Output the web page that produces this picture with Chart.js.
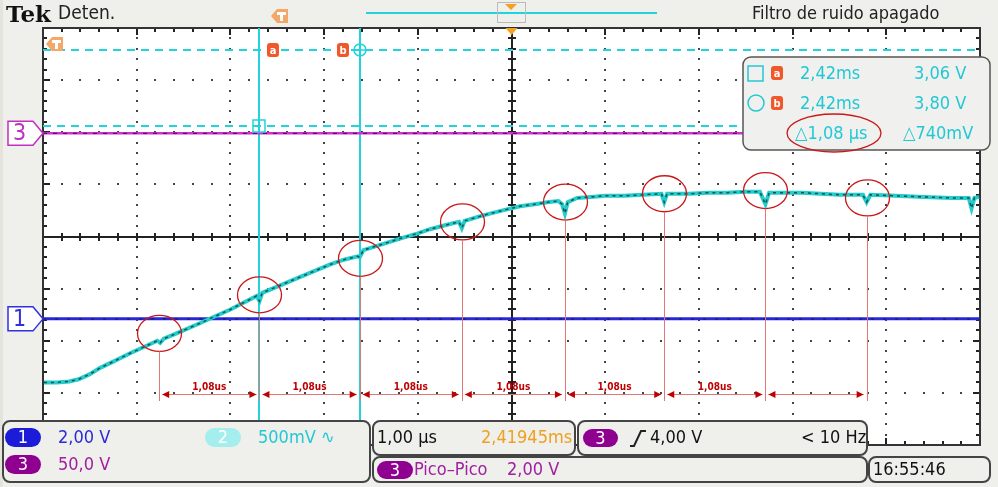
<!DOCTYPE html>
<html>
<head>
<meta charset="utf-8">
<script src="https://cdn.jsdelivr.net/npm/chart.js@4.4.1/dist/chart.umd.min.js"></script>
<style>
  html, body { margin: 0; padding: 0; background: #efefeb; }
  canvas { display: block; }
</style>
</head>
<body>
<canvas id="scope" width="998" height="487"></canvas>
<script>
// trace of channel 2, time in µs (1 µs/div, trigger at 0), volts (500 mV/div)
const traceTime = [-4.99, -4.85, -4.72, -4.62, -4.50, -4.39, -4.25, -4.07, -3.90, -3.78, -3.75, -3.71,
  -3.55, -3.32, -3.15, -3.00, -2.85, -2.72, -2.69, -2.66, -2.50, -2.26, -2.10, -1.94, -1.78, -1.64,
  -1.62, -1.58, -1.40, -1.19, -1.00, -0.87, -0.70, -0.56, -0.53, -0.50, -0.35, -0.23, -0.05, 0.09,
  0.25, 0.40, 0.50, 0.54, 0.57, 0.60, 0.70, 0.85, 1.00, 1.20, 1.40, 1.60, 1.63, 1.66, 1.90, 2.10,
  2.30, 2.50, 2.65, 2.71, 2.75, 2.90, 3.10, 3.30, 3.50, 3.75, 3.79, 3.83, 4.10, 4.40, 4.70, 4.88,
  4.91, 4.94, 4.99];
const traceVolt = [0.60, 0.60, 0.61, 0.63, 0.68, 0.74, 0.80, 0.88, 0.95, 1.00, 0.98, 1.02,
  1.08, 1.17, 1.24, 1.30, 1.37, 1.43, 1.38, 1.46, 1.52, 1.61, 1.67, 1.73, 1.78, 1.81,
  1.80, 1.87, 1.92, 1.98, 2.03, 2.07, 2.11, 2.14, 2.08, 2.15, 2.19, 2.22, 2.26, 2.29,
  2.31, 2.33, 2.34, 2.31, 2.22, 2.33, 2.37, 2.38, 2.39, 2.39, 2.40, 2.41, 2.33, 2.41, 2.41, 2.42,
  2.42, 2.43, 2.43, 2.31, 2.42, 2.42, 2.42, 2.41, 2.40, 2.40, 2.33, 2.40, 2.39, 2.38, 2.37, 2.37,
  2.27, 2.37, 2.38];

// flat reference traces of channel 1 and channel 3 (screen level)
const ch1Level = 1.21;
const ch3Level = 2.99;

// cursors a and b
const cursorTimes = [-2.695, -1.617];
const cursorLevels = [3.06, 3.79];

// hand-drawn red marks on the glitches
const markTimes = [-3.76, -2.69, -1.62, -0.53, 0.57, 1.63, 2.71, 3.79];
const markLevels = [1.07, 1.44, 1.79, 2.14, 2.33, 2.41, 2.44, 2.37];
const spanLabels = ["1,08us", "1,08us", "1,08us", "1,08us", "1,08us", "1,08us", ""];

const FONT = '"DejaVu Sans Condensed", "Liberation Sans Narrow", sans-serif';

function rrect(ctx, x, y, w, h, r) {
  ctx.beginPath();
  ctx.moveTo(x + r, y);
  ctx.arcTo(x + w, y, x + w, y + h, r);
  ctx.arcTo(x + w, y + h, x, y + h, r);
  ctx.arcTo(x, y + h, x, y, r);
  ctx.arcTo(x, y, x + w, y, r);
  ctx.closePath();
}

function pill(ctx, x, y, w, h, fill, label) {
  rrect(ctx, x, y, w, h, h / 2);
  ctx.fillStyle = fill;
  ctx.fill();
  ctx.fillStyle = "#fff";
  ctx.font = "18px " + FONT;
  ctx.textAlign = "center";
  ctx.textBaseline = "middle";
  ctx.fillText(label, x + w / 2, y + h / 2 + 1);
  ctx.textAlign = "left";
}

function txt(ctx, s, x, y, color, size) {
  ctx.fillStyle = color;
  ctx.font = size + "px " + FONT;
  ctx.textAlign = "left";
  ctx.textBaseline = "middle";
  ctx.fillText(s, x, y);
}

function tagLetter(ctx, x, y, ch) {
  rrect(ctx, x - 6, y - 7, 12, 14, 3);
  ctx.fillStyle = "#f0582a";
  ctx.fill();
  ctx.fillStyle = "#fff";
  ctx.font = "bold 11px " + FONT;
  ctx.textAlign = "center";
  ctx.textBaseline = "middle";
  ctx.fillText(ch, x, y + 1);
  ctx.textAlign = "left";
}

function trigFlag(ctx, x, y) {
  ctx.fillStyle = "#f4a766";
  ctx.beginPath();
  ctx.moveTo(x - 9, y);
  ctx.lineTo(x - 3, y - 7);
  ctx.lineTo(x + 8, y - 7);
  ctx.lineTo(x + 8, y + 7);
  ctx.lineTo(x - 3, y + 7);
  ctx.closePath();
  ctx.fill();
  ctx.fillStyle = "#fff";
  ctx.fillRect(x - 3, y - 4, 9, 3);
  ctx.fillRect(x, y - 2, 3, 7);
}

function chMarker(ctx, y, color, label) {
  ctx.strokeStyle = color;
  ctx.lineWidth = 1.5;
  ctx.fillStyle = "#fff";
  ctx.beginPath();
  ctx.moveTo(8, y - 12);
  ctx.lineTo(33, y - 12);
  ctx.lineTo(43, y);
  ctx.lineTo(33, y + 12);
  ctx.lineTo(8, y + 12);
  ctx.closePath();
  ctx.fill();
  ctx.stroke();
  txt(ctx, label, 13, y + 1, color, 23);
}

function arrowHead(ctx, x, y, dir) {
  ctx.beginPath();
  ctx.moveTo(x, y);
  ctx.lineTo(x - dir * 7, y - 3.5);
  ctx.lineTo(x - dir * 7, y + 3.5);
  ctx.closePath();
  ctx.fill();
}

const scopePlugin = {
  id: "scope",
  beforeDraw(chart) {
    const ctx = chart.ctx;
    const a = chart.chartArea;
    ctx.save();
    ctx.fillStyle = "#efefeb";
    ctx.fillRect(0, 0, chart.width, chart.height);
    ctx.fillStyle = "#e4e4dc";
    ctx.fillRect(0, 0, 3, chart.height);
    ctx.fillStyle = "#fff";
    ctx.fillRect(a.left, a.top, a.right - a.left, a.bottom - a.top);
    ctx.restore();
  },
  beforeDatasetsDraw(chart) {
    const ctx = chart.ctx;
    const a = chart.chartArea;
    const xs = chart.scales.x, ys = chart.scales.y;
    const dx = (a.right - a.left) / 10, dy = (a.bottom - a.top) / 8;
    const cx = xs.getPixelForValue(0), cy = ys.getPixelForValue(2);
    ctx.save();
    // dotted graticule
    ctx.fillStyle = "#444";
    for (let i = 1; i < 10; i++) {
      if (i === 5) continue;
      const x = Math.round(a.left + i * dx);
      for (let j = 1; j < 40; j++) ctx.fillRect(x - 1, Math.round(a.top + j * dy / 5) - 1, 2, 2);
    }
    for (let j = 1; j < 8; j++) {
      if (j === 4) continue;
      const y = Math.round(a.top + j * dy);
      for (let i = 1; i < 50; i++) ctx.fillRect(Math.round(a.left + i * dx / 5) - 1, y - 1, 2, 2);
    }
    // center cross with minor ticks
    ctx.fillStyle = "#222";
    ctx.fillRect(a.left, Math.round(cy) - 1, a.right - a.left, 2);
    ctx.fillRect(Math.round(cx) - 1, a.top, 2, a.bottom - a.top);
    for (let i = 1; i < 50; i++) {
      const x = Math.round(a.left + i * dx / 5);
      ctx.fillRect(x - 1, Math.round(cy) - 4, 2, 8);
      ctx.fillRect(x - 1, a.top, 2, i % 5 === 0 ? 7 : 4);
      ctx.fillRect(x - 1, a.bottom - (i % 5 === 0 ? 7 : 4), 2, i % 5 === 0 ? 7 : 4);
    }
    for (let j = 1; j < 40; j++) {
      const y = Math.round(a.top + j * dy / 5);
      ctx.fillRect(Math.round(cx) - 4, y - 1, 8, 2);
      ctx.fillRect(a.left, y - 1, j % 5 === 0 ? 7 : 4, 2);
      ctx.fillRect(a.right - (j % 5 === 0 ? 7 : 4), y - 1, j % 5 === 0 ? 7 : 4, 2);
    }
    // frame
    ctx.strokeStyle = "#333";
    ctx.lineWidth = 2;
    ctx.strokeRect(a.left, a.top, a.right - a.left, a.bottom - a.top);

    // cursors
    ctx.strokeStyle = "#22d3dc";
    ctx.lineWidth = 2;
    ctx.setLineDash([8, 6]);
    cursorLevels.forEach(v => {
      const y = Math.round(ys.getPixelForValue(v));
      ctx.beginPath(); ctx.moveTo(a.left, y); ctx.lineTo(a.right, y); ctx.stroke();
    });
    ctx.setLineDash([]);
    cursorTimes.forEach(t => {
      const x = Math.round(xs.getPixelForValue(t));
      ctx.beginPath(); ctx.moveTo(x, a.top); ctx.lineTo(x, a.bottom); ctx.stroke();
    });
    ctx.restore();
  },
  afterDatasetsDraw(chart) {
    const ctx = chart.ctx;
    const a = chart.chartArea;
    const xs = chart.scales.x, ys = chart.scales.y;
    ctx.save();
    // cursor symbols
    const ax = xs.getPixelForValue(cursorTimes[0]), ay = ys.getPixelForValue(cursorLevels[0]);
    const bx = xs.getPixelForValue(cursorTimes[1]), by = ys.getPixelForValue(cursorLevels[1]);
    ctx.strokeStyle = "#22d3dc";
    ctx.lineWidth = 1.5;
    ctx.strokeRect(ax - 6, ay - 6, 12, 12);
    ctx.beginPath(); ctx.arc(bx, by, 6, 0, Math.PI * 2); ctx.stroke();
    ctx.beginPath();
    ctx.moveTo(bx - 9, by); ctx.lineTo(bx + 9, by);
    ctx.moveTo(bx, by - 9); ctx.lineTo(bx, by + 9);
    ctx.stroke();
    tagLetter(ctx, ax + 14, ys.getPixelForValue(cursorLevels[1]), "a");
    tagLetter(ctx, bx - 17, by, "b");
    trigFlag(ctx, a.left + 12, a.top + 16);
    // trigger position
    ctx.fillStyle = "#f4a020";
    const tx = xs.getPixelForValue(0);
    ctx.beginPath(); ctx.moveTo(tx - 6, a.top); ctx.lineTo(tx + 6, a.top); ctx.lineTo(tx, a.top + 7); ctx.closePath(); ctx.fill();

    // red marks
    const yArrow = 394, yFoot = 401;
    markTimes.forEach((t, i) => {
      const x = Math.round(xs.getPixelForValue(t)) + 0.5;
      const y = ys.getPixelForValue(markLevels[i]);
      ctx.strokeStyle = "#c81818";
      ctx.lineWidth = 1.3;
      ctx.beginPath(); ctx.ellipse(x, y, 22, 18, 0, 0, Math.PI * 2); ctx.stroke();
      ctx.strokeStyle = "#e07878";
      ctx.lineWidth = 1;
      ctx.beginPath(); ctx.moveTo(x, y + 18); ctx.lineTo(x, yFoot); ctx.stroke();
    });
    for (let i = 0; i < markTimes.length - 1; i++) {
      const x1 = xs.getPixelForValue(markTimes[i]) + 3;
      const x2 = xs.getPixelForValue(markTimes[i + 1]) - 3;
      ctx.strokeStyle = "#e07878";
      ctx.beginPath(); ctx.moveTo(x1, yArrow + 0.5); ctx.lineTo(x2, yArrow + 0.5); ctx.stroke();
      ctx.fillStyle = "#c00000";
      arrowHead(ctx, x1, yArrow + 0.5, -1);
      arrowHead(ctx, x2, yArrow + 0.5, 1);
      if (spanLabels[i]) {
        ctx.font = "bold 10px " + FONT;
        ctx.textAlign = "center";
        ctx.textBaseline = "alphabetic";
        ctx.fillText(spanLabels[i], (x1 + x2) / 2, yArrow - 4);
      }
    }

    // channel markers
    chMarker(ctx, ys.getPixelForValue(ch3Level), "#c030c0", "3");
    chMarker(ctx, ys.getPixelForValue(ch1Level), "#3030e0", "1");

    // cursor readout box
    rrect(ctx, 743, 57, 247, 93, 8);
    ctx.fillStyle = "#f0f0ee";
    ctx.fill();
    ctx.strokeStyle = "#555";
    ctx.lineWidth = 1.5;
    ctx.stroke();
    ctx.strokeStyle = "#22c8d4";
    ctx.strokeRect(748, 66, 15, 15);
    ctx.beginPath(); ctx.arc(756, 103, 8, 0, Math.PI * 2); ctx.stroke();
    tagLetter(ctx, 777, 73, "a");
    tagLetter(ctx, 777, 103, "b");
    const cy = "#22c8d4";
    txt(ctx, "2,42ms", 800, 74, cy, 18);
    txt(ctx, "3,06 V", 914, 74, cy, 18);
    txt(ctx, "2,42ms", 800, 104, cy, 18);
    txt(ctx, "3,80 V", 914, 104, cy, 18);
    txt(ctx, "\u25B31,08 \u00B5s", 795, 134, cy, 18);
    txt(ctx, "\u25B3740mV", 903, 134, cy, 18);
    ctx.strokeStyle = "#c81818";
    ctx.lineWidth = 1.3;
    ctx.beginPath(); ctx.ellipse(834, 133, 47, 19, 0, 0, Math.PI * 2); ctx.stroke();
    ctx.restore();
  },
  afterDraw(chart) {
    const ctx = chart.ctx;
    ctx.save();
    // top bar
    ctx.fillStyle = "#111";
    ctx.font = 'bold 23px "DejaVu Serif", serif';
    ctx.textBaseline = "alphabetic";
    ctx.textAlign = "left";
    ctx.fillText("Tek", 6, 22);
    txt(ctx, "Deten.", 58, 14, "#222", 19);
    trigFlag(ctx, 280, 16);
    ctx.fillStyle = "#22d3dc";
    ctx.fillRect(366, 12, 291, 2);
    ctx.strokeStyle = "#bbb";
    ctx.lineWidth = 1;
    ctx.strokeRect(497.5, 2.5, 28, 20);
    ctx.fillStyle = "#f4a020";
    ctx.beginPath(); ctx.moveTo(505, 4); ctx.lineTo(517, 4); ctx.lineTo(511, 10); ctx.closePath(); ctx.fill();
    txt(ctx, "Filtro de ruido apagado", 752, 14, "#222", 18);

    // bottom panels
    const panel = (x, y, w, h) => {
      rrect(ctx, x, y, w, h, 7);
      ctx.fillStyle = "#efefeb";
      ctx.fill();
      ctx.strokeStyle = "#444";
      ctx.lineWidth = 2;
      ctx.stroke();
    };
    panel(3, 421, 367, 61);
    panel(373, 421, 202, 34);
    panel(578, 421, 289, 34);
    panel(373, 457, 494, 25);
    panel(869, 457, 121, 25);

    pill(ctx, 5, 428, 36, 19, "#1c1cd8", "1");
    txt(ctx, "2,00 V", 58, 438, "#2a2ad8", 18);
    pill(ctx, 205, 428, 36, 19, "#a4eeee", "2");
    txt(ctx, "500mV \u223F", 258, 438, "#22c8d4", 18);
    pill(ctx, 5, 455, 36, 19, "#900090", "3");
    txt(ctx, "50,0 V", 58, 465, "#a020a0", 18);

    txt(ctx, "1,00 \u00B5s", 377, 438, "#111", 18);
    txt(ctx, "2,41945ms", 481, 438, "#f0a020", 18);

    pill(ctx, 583, 429, 35, 18, "#900090", "3");
    ctx.strokeStyle = "#222";
    ctx.lineWidth = 2;
    ctx.beginPath(); ctx.moveTo(630, 446); ctx.lineTo(634, 446); ctx.lineTo(641, 431); ctx.lineTo(646, 431); ctx.stroke();
    txt(ctx, "4,00 V", 650, 438, "#111", 18);
    txt(ctx, "< 10 Hz", 801, 438, "#111", 18);

    pill(ctx, 377, 461, 36, 18, "#900090", "3");
    txt(ctx, "Pico\u2013Pico", 414, 470, "#a020a0", 18);
    txt(ctx, "2,00 V", 507, 470, "#a020a0", 18);
    txt(ctx, "16:55:46", 873, 470, "#111", 18);
    ctx.restore();
  }
};

const trace = traceTime.map((t, i) => ({ x: t, y: traceVolt[i] }));

// Chart.js paints the first dataset on top, so the dark speckle layers come first
new Chart(document.getElementById("scope"), {
  type: "line",
  data: {
    datasets: [
      { data: trace, borderColor: "rgba(15,60,60,0.85)", borderWidth: 1.5, borderDash: [3, 4] },
      { data: trace, borderColor: "#24cccc", borderWidth: 4 },
      { data: [{ x: -5, y: ch1Level }, { x: 5, y: ch1Level }], borderColor: "rgba(20,20,60,0.7)", borderWidth: 1.2, borderDash: [3, 9] },
      { data: [{ x: -5, y: ch1Level }, { x: 5, y: ch1Level }], borderColor: "#2828d8", borderWidth: 3 },
      { data: [{ x: -5, y: ch3Level }, { x: 5, y: ch3Level }], borderColor: "rgba(40,20,60,0.8)", borderWidth: 1.2, borderDash: [4, 6] },
      { data: [{ x: -5, y: ch3Level }, { x: 5, y: ch3Level }], borderColor: "#d62cd6", borderWidth: 2.5 }
    ]
  },
  options: {
    responsive: false,
    animation: false,
    devicePixelRatio: 1,
    layout: { padding: { left: 43, top: 28, right: 18, bottom: 42 } },
    elements: { point: { radius: 0 }, line: { tension: 0 } },
    plugins: { legend: { display: false }, tooltip: { enabled: false } },
    scales: {
      x: { type: "linear", min: -5, max: 5, display: false },
      y: { type: "linear", min: 0, max: 4, display: false }
    }
  },
  plugins: [scopePlugin]
});
</script>
</body>
</html>
